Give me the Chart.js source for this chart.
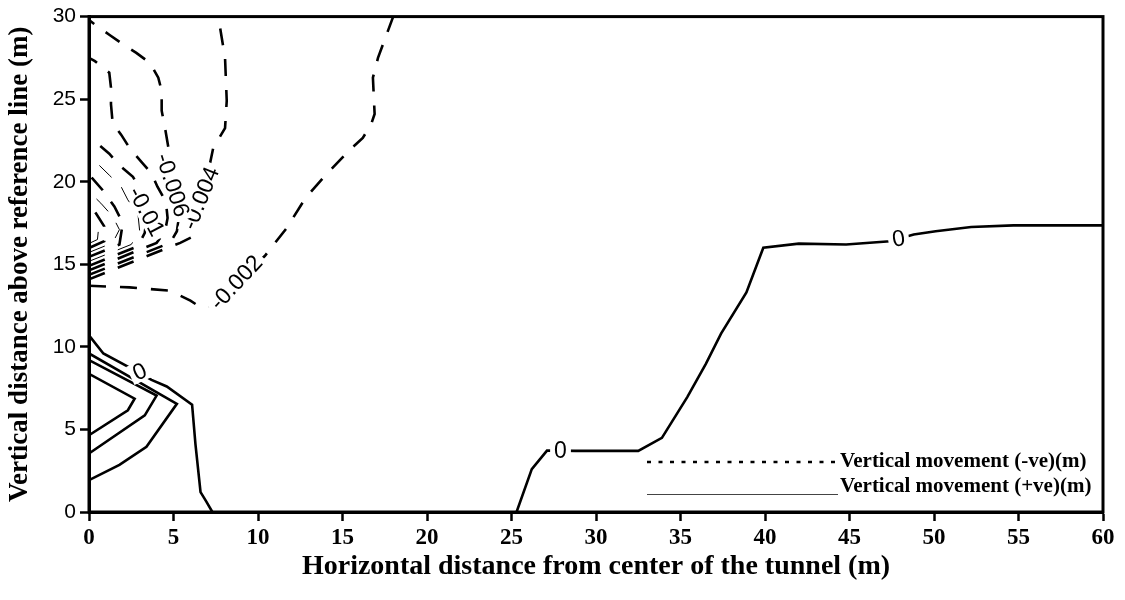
<!DOCTYPE html>
<html><head><meta charset="utf-8">
<script src="https://cdn.jsdelivr.net/npm/chart.js@4.4.1/dist/chart.umd.min.js"></script>
<style>html,body{margin:0;padding:0;background:#fff}#wrap{width:1125px;height:600px}</style>
</head><body><div id="wrap"><canvas id="c" width="1125" height="600"></canvas></div>
<script>
// ---- data (x = horizontal distance m, y = vertical distance m) ----
const xTicks = [0,5,10,15,20,25,30,35,40,45,50,55,60];
const yTicks = [0,5,10,15,20,25,30];

// negative (dashed) contours
const neg002 = [[0,13.7],[2.4,13.6],[4.8,13.4],[6.0,12.8],[6.6,12.4],[7.2,12.5],[8.7,13.9],[10.4,15.5],[11.7,17.2],[12.8,19.0],[14.0,20.4],[15.4,21.9],[16.2,22.65],[16.7,23.5],[16.9,24.1],[16.8,26.3],[17.1,27.5],[18.0,30]];
const neg004 = [[0,14.09],[5.4,16.3],[6.2,16.7],[6.5,18.0],[7.0,20.3],[7.35,22.05],[8.05,23.25],[8.15,24.9],[8.05,27.5],[7.65,30]];
const neg006 = [[0,14.36],[4.8,16.3],[5.2,17.0],[5.3,17.7],[5.0,19.6],[4.7,22.05],[4.5,23.25],[4.3,24.3],[4.3,25.5],[4.1,26.3],[3.6,27.2],[2.8,27.8],[1.9,28.4],[1.2,28.9],[0.25,29.6],[0,29.8]];
const neg008 = [[0,14.63],[4.0,16.3],[4.5,17.0],[4.65,17.8],[4.55,18.8],[4.05,19.7],[3.7,20.5],[3.1,21.2],[2.4,22.05],[1.9,22.85],[1.4,23.55],[1.3,24.7],[1.3,25.7],[1.2,26.6],[0.35,27.3],[0,27.5]];
const neg010 = [[0,14.91],[2.9,16.1],[3.3,16.9],[3.45,18.2],[3.0,19.6],[2.6,20.3],[1.8,21.0],[1.2,21.7],[0.4,22.4],[0,22.7]];
const neg012 = [[0,15.18],[2.5,16.2],[3.0,17.0],[2.9,18.0],[2.3,18.9],[1.9,19.7],[1.2,20.4],[0.5,21.1],[0,21.5]];
const neg014 = [[0,15.45],[1.8,16.2],[2.0,17.5],[1.5,18.5],[0.8,19.5],[0.2,20.2],[0,20.4]];
const neg016 = [[0,15.72],[1.4,16.3],[1.8,17.1],[1.4,17.9],[0.7,18.7],[0,19.4]];
const neg018 = [[0,15.99],[0.9,16.4],[0.9,17.3],[0.4,18.1],[0,18.6]];
const neg020 = [[0,16.26],[0.5,16.5],[0.55,17.0],[0.2,17.4],[0,17.6]];

// zero / positive (solid) contours
const zeroLeft = [[0,10.7],[0.85,9.6],[2.3,8.8],[3.7,8.0],[4.6,7.6],[6.1,6.5],[6.3,4.1],[6.6,1.2],[6.9,0.7],[7.3,0]];
const pos1 = [[0,9.6],[5.2,6.55],[3.4,3.95],[1.8,2.85],[0,1.93]];
const pos2 = [[0,9.2],[4.0,7.05],[3.3,5.85],[0,3.54]];
const pos3 = [[0,8.37],[2.7,6.86],[2.3,6.16],[0,4.65]];
const zeroRight = [[25.3,0],[26.2,2.6],[27.1,3.72],[28.8,3.70],[32.5,3.70],[33.9,4.49],[35.4,6.96],[36.5,8.97],[37.4,10.8],[38.9,13.3],[39.9,16.0],[42.0,16.25],[44.8,16.2],[47.4,16.4],[48.8,16.8],[50.1,17.0],[52.2,17.26],[54.7,17.36],[60,17.36]];

// contour labels
const labelText  = ['-0.002','-0.004','-0.006','-0.01','0','0','0'];
const labelX     = [8.7, 6.6, 4.95, 3.4, 3.0, 27.9, 47.9];
const labelY     = [13.9, 19.0, 19.8, 18.2, 8.5, 3.7, 16.55];
const labelAngle = [-47, -68, 72, 62, -25, 0, -8];

const legendText = ['Vertical movement (-ve)(m)', 'Vertical movement (+ve)(m)'];

// ---- build ----
const toPts = a => a.map(p => ({x: p[0], y: p[1]}));
const DASH = [17, 14];
function dashed(arr, w) { return {data: toPts(arr), showLine: true, pointRadius: 0, borderColor: '#000', borderWidth: w, borderDash: DASH, fill: false, tension: 0}; }
function solid(arr) { return {data: toPts(arr), showLine: true, pointRadius: 0, borderColor: '#000', borderWidth: 2.6, fill: false, tension: 0}; }

const datasets = [
  dashed(neg002, 2.6), dashed(neg004, 2.6), dashed(neg006, 2.6), dashed(neg008, 2.6), dashed(neg010, 2.6),
  dashed(neg012, 1), dashed(neg014, 2.6), dashed(neg016, 1), dashed(neg018, 2.6), dashed(neg020, 1),
  solid(zeroLeft), solid(pos1), solid(pos2), solid(pos3), solid(zeroRight)
];

const overlay = {
  id: 'overlay',
  afterDatasetsDraw(chart) {
    const ctx = chart.ctx, xs = chart.scales.x, ys = chart.scales.y;
    ctx.save();
    ctx.font = '23px "Liberation Sans", Arial, sans-serif';
    ctx.textAlign = 'center'; ctx.textBaseline = 'middle';
    for (let i = 0; i < labelText.length; i++) {
      const px = xs.getPixelForValue(labelX[i]), py = ys.getPixelForValue(labelY[i]);
      const w = ctx.measureText(labelText[i]).width;
      ctx.save();
      ctx.translate(px, py); ctx.rotate(labelAngle[i] * Math.PI / 180);
      ctx.fillStyle = '#fff'; ctx.fillRect(-w/2 - 4, -10, w + 8, 20);
      ctx.fillStyle = '#000'; ctx.fillText(labelText[i], 0, 1);
      ctx.restore();
    }
    ctx.restore();
  },
  afterDraw(chart) {
    const ctx = chart.ctx, a = chart.chartArea;
    ctx.save();
    ctx.strokeStyle = '#000'; ctx.lineWidth = 3;
    ctx.strokeRect(a.left, a.top, a.right - a.left, a.bottom - a.top);
    // legend
    ctx.lineWidth = 2.5; ctx.setLineDash([4, 7.5]);
    ctx.beginPath(); ctx.moveTo(647, 462); ctx.lineTo(838, 462); ctx.stroke();
    ctx.setLineDash([]); ctx.lineWidth = 1; ctx.strokeStyle = '#444';
    ctx.beginPath(); ctx.moveTo(647, 494.5); ctx.lineTo(838, 494.5); ctx.stroke();
    ctx.fillStyle = '#000'; ctx.font = 'bold 21px "Liberation Serif", "Times New Roman", serif';
    ctx.textAlign = 'left'; ctx.textBaseline = 'middle';
    ctx.fillText(legendText[0], 840, 462);
    ctx.fillText(legendText[1], 840, 487);
    ctx.restore();
  }
};

new Chart(document.getElementById('c'), {
  type: 'scatter',
  data: {datasets},
  plugins: [overlay],
  options: {
    responsive: false, animation: false,
    layout: {padding: {top: 15, right: 22, left: 0, bottom: 0}},
    plugins: {legend: {display: false}, tooltip: {enabled: false}},
    scales: {
      x: {
        type: 'linear', min: 0, max: 60,
        afterBuildTicks: s => { s.ticks = xTicks.map(v => ({value: v})); },
        afterFit: s => { s.height = 88; },
        ticks: {color: '#000', padding: 3, maxRotation: 0, autoSkip: false,
                font: {family: '"Liberation Serif", "Times New Roman", serif', size: 23, weight: 'bold'}},
        grid: {drawOnChartArea: false, drawTicks: true, tickLength: 9, tickWidth: 2.5, tickColor: '#000'},
        border: {display: true, color: '#000', width: 3},
        title: {display: true, text: 'Horizontal distance from center of the tunnel (m)', color: '#000',
                font: {family: '"Liberation Serif", "Times New Roman", serif', size: 28, weight: 'bold'},
                padding: {top: 4, bottom: 16}}
      },
      y: {
        type: 'linear', min: 0, max: 30,
        afterBuildTicks: s => { s.ticks = yTicks.map(v => ({value: v})); },
        afterFit: s => { s.width = 89; },
        ticks: {color: '#000', padding: 4,
                font: {family: '"Liberation Sans", Arial, sans-serif', size: 21}},
        grid: {drawOnChartArea: false, drawTicks: true, tickLength: 9, tickWidth: 2.5, tickColor: '#000'},
        border: {display: true, color: '#000', width: 3},
        title: {display: true, text: 'Vertical distance above reference line (m)', color: '#000',
                font: {family: '"Liberation Serif", "Times New Roman", serif', size: 27, weight: 'bold'},
                padding: {top: 4, bottom: 0}}
      }
    }
  }
});
</script></body></html>
